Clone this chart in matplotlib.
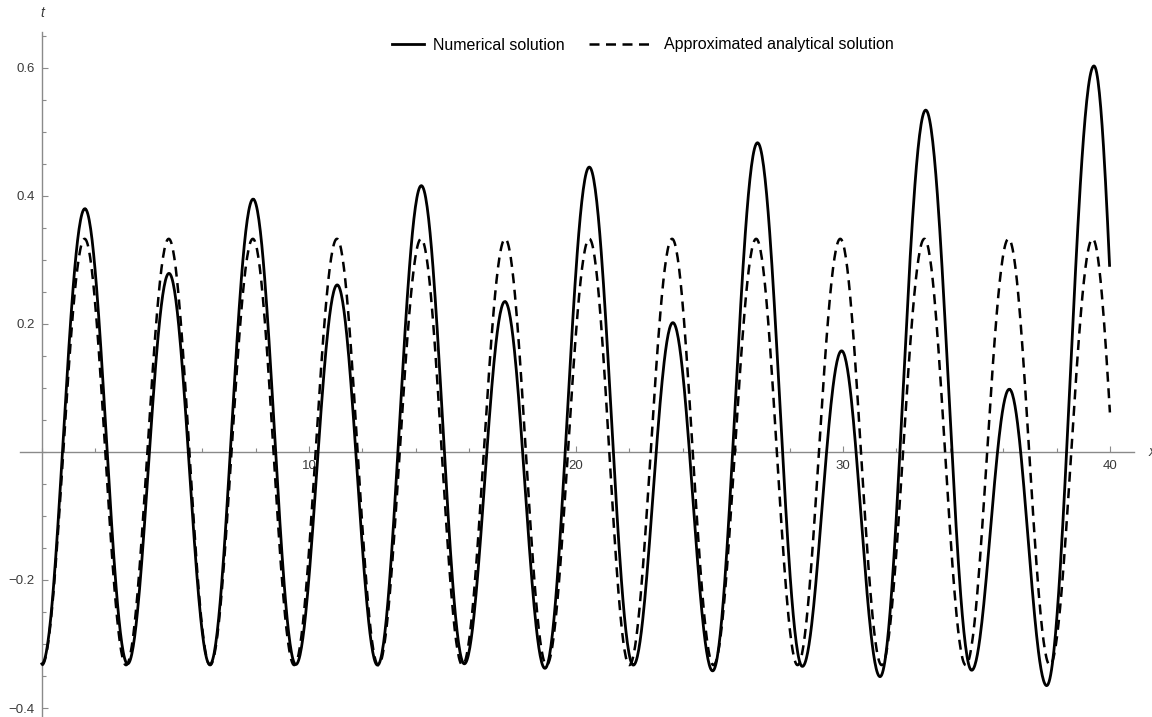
import numpy as np
import matplotlib
matplotlib.use("Agg")
import matplotlib.pyplot as plt
from matplotlib.ticker import FixedLocator, MultipleLocator, FuncFormatter
from matplotlib.lines import Line2D

plt.rcParams['font.family'] = ['Liberation Sans', 'DejaVu Sans']

# extrema of the curves (x, value); last point lies past x=40
num_x = [0, 1.61, 3.21, 4.76, 6.29, 7.91, 9.51, 11.06, 12.57, 14.21, 15.82, 17.34, 18.84,
         20.5, 22.15, 23.63, 25.12, 26.8, 28.48, 29.95, 31.39, 33.1, 34.82, 36.23, 37.63,
         39.4, 40.9]
num_y = [-0.331, 0.380, -0.331, 0.279, -0.332, 0.395, -0.332, 0.261, -0.333, 0.416, -0.331,
         0.235, -0.338, 0.445, -0.333, 0.202, -0.342, 0.483, -0.335, 0.158, -0.351, 0.534,
         -0.341, 0.098, -0.365, 0.603, -0.34]

ana_x = [0, 1.6, 3.15, 4.75, 6.3, 7.9, 9.45, 11.05, 12.6, 14.2, 15.75, 17.35, 18.9, 20.5,
         22.0, 23.6, 25.15, 26.75, 28.3, 29.9, 31.45, 33.05, 34.6, 36.2, 37.75, 39.35, 40.82]
ana_y = [-0.333, 0.333, -0.333, 0.333, -0.333, 0.333, -0.333, 0.333, -0.333, 0.333, -0.333,
         0.333, -0.333, 0.333, -0.333, 0.333, -0.333, 0.333, -0.333, 0.333, -0.333, 0.333,
         -0.333, 0.333, -0.333, 0.333, -0.333]

x_end = 40
labels = ['Numerical solution', 'Approximated analytical solution']


def smooth(ex, ey, n=60):
    # half cosine between neighbouring extrema
    xs, ys = [], []
    for i in range(len(ex) - 1):
        s = np.linspace(0, 1, n)
        xs.append(ex[i] + (ex[i + 1] - ex[i]) * s)
        ys.append(ey[i] + (ey[i + 1] - ey[i]) * (1 - np.cos(np.pi * s)) / 2)
    xs = np.concatenate(xs)
    ys = np.concatenate(ys)
    keep = xs <= x_end
    return xs[keep], ys[keep]


fig = plt.figure(figsize=(11.52, 7.17), dpi=100)
ax = fig.add_axes([20 / 1152, 0, 1114 / 1152, 1 - 32 / 717])

xn, yn = smooth(num_x, num_y)
xa, ya = smooth(ana_x, ana_y)
ln1, = ax.plot(xn, yn, color='black', lw=2.0, zorder=3)
ln2, = ax.plot(xa, ya, color='black', lw=1.8, dashes=(4.0, 2.6), zorder=3)

ax.set_xlim(-0.82, 40.9)
ax.set_ylim(-0.414, 0.656)

for s in ['top', 'right']:
    ax.spines[s].set_visible(False)
ax.spines['left'].set_position(('data', 0))
ax.spines['bottom'].set_position(('data', 0))
for s in ['left', 'bottom']:
    ax.spines[s].set_color('#8a8a8a')
    ax.spines[s].set_linewidth(1.0)

ax.xaxis.set_major_locator(FixedLocator([10, 20, 30, 40]))
ax.xaxis.set_minor_locator(MultipleLocator(2))
ax.yaxis.set_major_locator(FixedLocator([-0.4, -0.2, 0.2, 0.4, 0.6]))
ax.yaxis.set_minor_locator(MultipleLocator(0.05))
ax.yaxis.set_major_formatter(FuncFormatter(lambda v, p: f"{v:.1f}".replace('-', '\u2212')))
ax.tick_params(which='major', direction='in', length=4.5, width=0.8, color='#8a8a8a',
               labelsize=9.5, labelcolor='#3a3a3a')
ax.tick_params(which='minor', direction='in', length=2.8, width=0.8, color='#8a8a8a')
ax.tick_params(axis='x', which='major', pad=6)
ax.tick_params(axis='y', which='major', pad=5)

ax.text(0, 0.686, 't', style='italic', fontsize=10, color='#3a3a3a',
        ha='center', va='center', clip_on=False)
ax.text(41.45, 0, 'x', style='italic', fontsize=10, color='#3a3a3a',
        ha='left', va='center', clip_on=False)

h1 = Line2D([], [], color='black', lw=2.0)
h2 = Line2D([], [], color='black', lw=1.8, dashes=(4.0, 2.6))
leg1 = ax.legend([h1], [labels[0]], loc='center left', bbox_to_anchor=(392 / 1152, 1 - 45 / 717),
                 bbox_transform=fig.transFigure, frameon=False, fontsize=11.5, handlelength=2.0,
                 handletextpad=0.55, borderpad=0, borderaxespad=0)
ax.add_artist(leg1)
ax.legend([h2], [labels[1]], loc='center left', bbox_to_anchor=(589 / 1152, 1 - 45 / 717),
          bbox_transform=fig.transFigure, frameon=False, fontsize=11.5, handlelength=3.8,
          handletextpad=0.9, borderpad=0, borderaxespad=0)

fig.savefig('out.png', dpi=100)
